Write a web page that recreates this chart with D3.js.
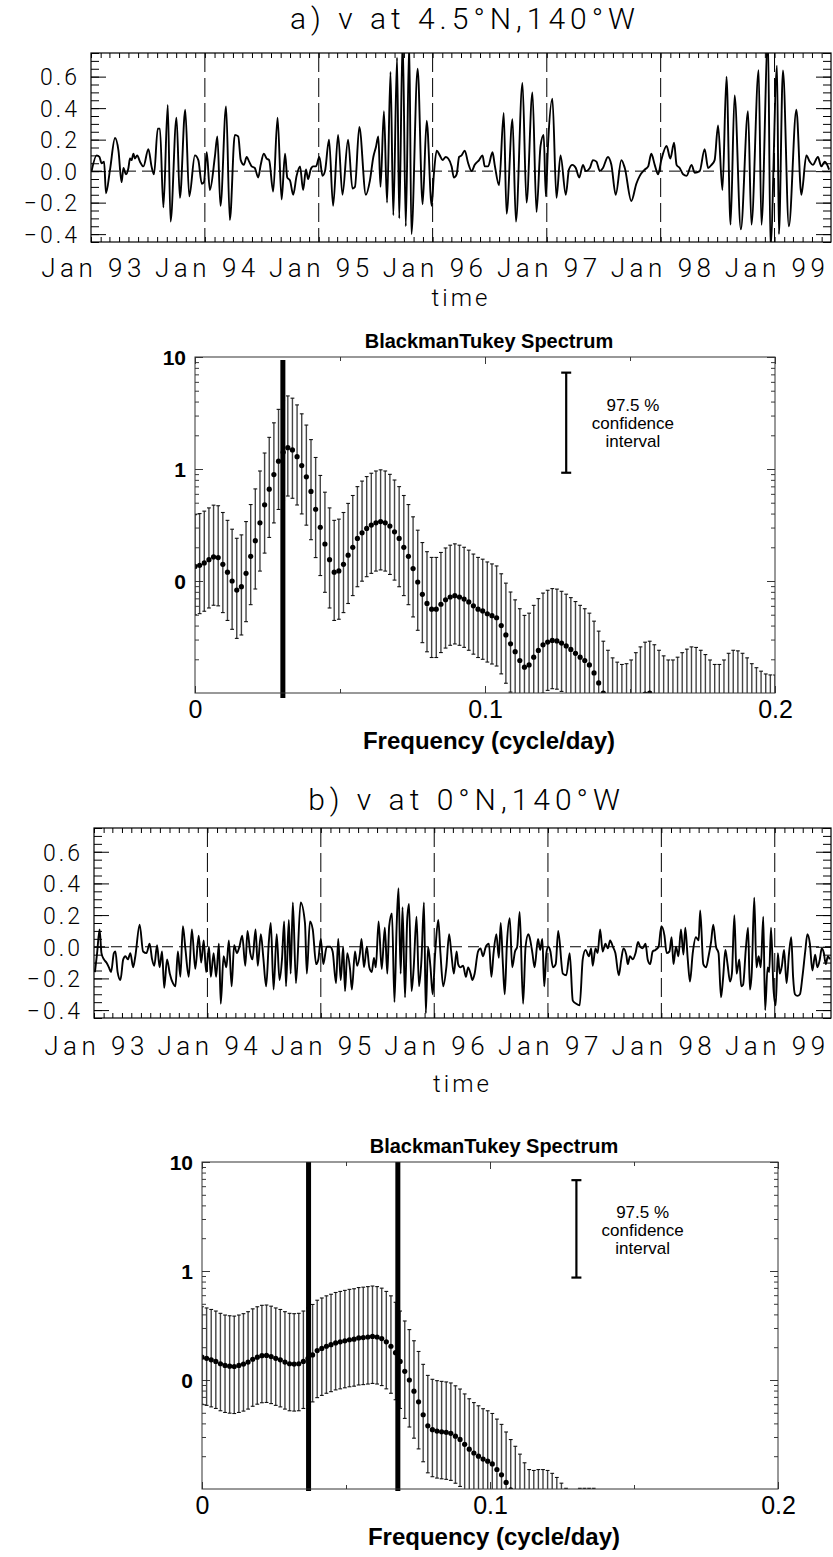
<!DOCTYPE html>
<html>
<head>
<meta charset="utf-8">
<script src="https://cdn.jsdelivr.net/npm/d3@7"></script>
<style>
  body { margin: 0; background: #fff; }
  .hershey { font-family: Roboto, "DejaVu Sans", sans-serif; font-weight: 300; fill: #000; }
  .helv { font-family: "Liberation Sans", Arial, sans-serif; fill: #000; }
</style>
</head>
<body>
<svg id="chart" width="833" height="1557"></svg>
<script>
// ---------- time series: days since 1 Jan 1993, meridional velocity v ----------
const tA = [2,18,27,34,42,48,61,77,88,98,104,112,120,125,130,136,141,148,157,168,
  184,194,202,214,221,232,246,255,274,285,302,315,333,344,355,362,371,381,397,405,
  415,433,445,461,472,480,490,499,507,515,525,536,544,554,563,571,584,598,611,622,
  629,638,648,659,670,
  680,689,696,704,712,721,732,742,750,763,776,792,806,824,838,846,860,881,894,905,
  913,921,928,939,949,960,969,981,988,999,1009,1020,1027,1047,1063,1076,1092,1099,1108,1118,
  1127,1137,1145,1156,1163,1172,1180,1188,1198,1209,1220,1230,1244,1255,1262,1273,1287,1294,1308,1323,
  1332,1351,1362,1383,1396,1415,1428,1441,1451,1458,1465,1479,1492,1505,1522,1532,1543,1554,1565,1577,
  1586,1599,1609,1620,1631,
  1641,1657,1668,1682,1700,1711,1732,1748,1759,1775,1786,1796,1807,1818,1828,1845,1857,1869,1877,1887,
  1898,1909,1925,1935,1951,1967,1978,1989,1999,2010,2024,2037,2050,2063,2083,2106,2117,2140,2149,2170,
  2178,2199,2205,2218,2237,2261,2277,2293,2304,2314,2330,2341,2352,2366];
const vA = [0.00,0.10,0.09,0.05,0.06,-0.14,0.01,0.21,0.13,-0.07,0.02,-0.02,0.02,0.08,0.07,0.11,0.08,0.10,0.06,0.03,
  0.14,0.03,-0.02,0.27,0.27,-0.23,0.42,-0.32,0.34,-0.17,0.39,-0.16,0.10,0.07,-0.08,-0.07,0.12,-0.12,0.09,0.22,
  -0.22,0.41,-0.31,0.23,0.22,0.07,0.04,0.09,0.06,0.03,0.02,-0.04,0.04,0.11,0.08,0.07,-0.13,0.34,-0.18,0.11,
  -0.04,-0.06,-0.15,-0.03,0.03,
  -0.12,0.01,-0.05,0.01,0.03,0.03,0.09,-0.03,0.00,0.20,-0.22,0.23,-0.15,0.20,-0.11,-0.10,0.28,-0.15,-0.06,0.09,
  0.15,0.22,-0.10,0.38,-0.20,0.63,-0.28,0.72,-0.30,0.85,-0.35,0.82,-0.40,0.65,-0.21,0.32,-0.22,-0.02,0.13,0.10,
  0.07,0.09,0.08,0.03,-0.04,-0.02,0.09,0.10,0.13,0.05,0.00,0.04,0.07,0.10,0.03,0.03,0.12,0.04,-0.09,0.37,
  -0.27,0.33,-0.32,0.56,-0.20,0.50,-0.26,0.16,0.23,-0.16,0.17,0.46,-0.17,0.10,-0.15,0.01,0.04,0.02,-0.04,0.04,
  0.00,0.02,0.07,0.06,0.00,
  0.02,0.09,0.04,-0.15,0.07,0.02,-0.19,-0.08,-0.03,0.01,0.03,0.11,0.04,-0.02,0.07,0.16,0.08,0.18,0.04,0.02,
  -0.02,-0.03,0.04,-0.01,0.00,0.14,0.02,0.04,0.07,0.29,-0.12,0.60,-0.34,0.48,-0.37,0.38,-0.34,0.64,-0.34,0.85,
  -0.48,0.67,-0.40,0.64,-0.35,0.39,-0.15,0.10,0.06,0.04,0.09,0.03,0.06,0.01];

const tB = [3,10,18,24,32,40,48,55,64,69,76,85,94,101,109,117,126,133,147,158,
  169,179,187,194,203,211,219,226,235,244,254,262,270,278,286,294,305,315,326,337,
  345,353,361,370,376,385,393,402,408,417,426,434,443,451,460,468,477,487,494,503,
  510,520,527,537,545,554,563,569,578,588,597,605,612,618,627,633,640,
  650,665,679,685,695,704,715,722,730,738,749,760,768,779,786,794,802,808,815,824,
  830,840,847,856,861,869,878,886,894,901,907,916,926,936,944,950,959,967,974,980,
  987,993,1001,1008,1014,1022,1029,1038,1046,1054,1062,1068,1075,1083,1090,1098,1108,1115,1124,1134,
  1143,1150,1158,1167,1172,1179,1188,1197,1204,1212,1218,1225,1236,1244,1252,1261,1271,1279,1286,1295,
  1303,1309,1316,1322,1329,1338,1346,1355,1362,1370,1381,1389,1398,1402,1411,1418,1429,1436,1443,1449,
  1456,1462,1469,1477,1486,1494,
  1509,1520,1531,1541,1552,1563,1573,1582,1593,1600,1605,1614,1621,1629,1637,1646,1654,1661,1670,1678,
  1689,1697,1704,1713,1718,1725,1734,1743,1751,1758,1766,1775,1782,1790,1798,1807,1817,1826,1836,1843,
  1852,1859,1865,1873,1881,1889,1897,1903,1911,1918,1927,1937,1946,1951,1961,1970,1978,1986,1993,2002,
  2010,2018,2025,2032,2039,2047,2053,2061,2068,2077,2083,2089,2098,2105,2111,2117,2125,2132,2139,2146,
  2154,2160,2168,2173,2179,2187,2194,2201,2207,2214,2221,2229,2237,2244,2250,2256,2264,2272,2280,2289,
  2296,2304,2312,2321,2328,2336,2342,2349,2355,2362,2368];
const vB = [-0.16,-0.04,0.11,-0.04,-0.08,-0.10,-0.13,-0.16,-0.04,-0.03,-0.16,-0.21,-0.08,-0.06,-0.08,-0.04,-0.13,-0.06,0.14,-0.03,
  -0.04,0.02,-0.08,-0.12,0.01,-0.13,-0.03,-0.26,-0.08,-0.17,-0.23,-0.25,-0.03,-0.19,0.13,-0.01,-0.19,0.11,-0.14,0.07,
  -0.10,0.04,-0.16,0.00,-0.19,-0.04,-0.19,0.02,-0.36,-0.06,-0.13,0.04,-0.25,0.01,-0.04,0.00,0.07,-0.12,0.10,-0.04,
  -0.08,0.11,-0.12,0.08,-0.07,-0.25,0.04,0.15,-0.27,0.08,-0.21,-0.08,0.16,-0.25,0.17,-0.17,0.28,
  -0.23,0.28,0.15,-0.17,0.16,0.11,-0.11,-0.08,0.05,-0.11,0.00,0.00,-0.03,-0.23,0.05,-0.21,0.00,-0.28,-0.04,-0.14,
  -0.27,-0.03,-0.12,-0.04,0.05,-0.13,0.00,-0.13,-0.16,-0.07,-0.13,0.16,-0.14,0.12,-0.17,0.13,0.21,-0.35,0.13,0.37,
  -0.17,0.25,-0.32,0.17,0.27,-0.28,-0.13,0.19,-0.25,-0.08,0.28,-0.42,0.00,-0.13,-0.30,-0.04,0.17,-0.04,-0.25,-0.13,
  0.08,-0.04,-0.17,-0.03,-0.11,-0.13,-0.12,-0.19,-0.13,-0.17,-0.21,-0.17,-0.03,-0.01,-0.06,0.00,0.02,-0.19,-0.04,0.08,
  -0.07,0.15,-0.11,-0.30,0.02,0.18,-0.13,-0.03,0.00,0.22,-0.36,0.00,0.08,0.06,-0.04,-0.13,0.05,-0.02,0.05,-0.25,
  -0.04,0.00,-0.03,-0.13,-0.11,0.10,
  -0.17,-0.18,-0.04,-0.34,-0.36,-0.37,-0.08,-0.02,-0.06,-0.01,-0.12,-0.01,-0.04,0.11,-0.03,0.02,-0.01,0.04,0.00,-0.04,
  -0.18,-0.08,-0.01,-0.05,-0.11,-0.06,-0.08,-0.04,0.03,0.00,-0.01,0.02,-0.08,-0.11,-0.03,-0.02,0.00,0.13,0.07,-0.04,
  -0.03,0.06,-0.11,0.00,-0.06,0.11,-0.05,0.12,-0.08,-0.22,-0.04,0.06,0.04,0.23,-0.11,-0.13,-0.06,0.03,0.14,0.00,
  -0.04,-0.32,-0.19,-0.02,-0.11,-0.22,-0.17,0.20,-0.17,-0.08,-0.25,-0.24,-0.01,0.12,-0.27,-0.16,0.31,-0.13,-0.06,-0.13,
  0.19,-0.40,-0.13,-0.16,0.12,-0.27,-0.37,-0.04,-0.17,-0.12,-0.02,-0.23,-0.04,0.06,-0.19,-0.30,-0.31,-0.30,-0.19,-0.03,
  0.08,0.02,-0.15,-0.05,-0.13,-0.08,-0.01,-0.04,-0.11,-0.06,-0.08];

const seriesYTicks = [-0.4, -0.2, 0.0, 0.2, 0.4, 0.6];
const yearLabels = ["Jan 93", "Jan 94", "Jan 95", "Jan 96", "Jan 97", "Jan 98", "Jan 99"];

// ---------- Blackman-Tukey spectra on a uniform frequency grid ----------
const df = 0.0016; // cycle/day between estimates
const specA = [0.135,0.138,0.145,0.155,0.164,0.162,0.141,0.120,0.100,0.083,
  0.089,0.117,0.166,0.229,0.331,0.479,0.661,0.891,1.175,1.413,
  1.549,1.479,1.288,1.072,0.851,0.631,0.437,0.302,0.214,0.155,
  0.120,0.123,0.141,0.170,0.200,0.240,0.269,0.295,0.316,0.331,
  0.339,0.331,0.309,0.275,0.240,0.200,0.166,0.129,0.098,0.076,
  0.063,0.056,0.056,0.062,0.068,0.072,0.074,0.072,0.069,0.065,
  0.060,0.056,0.054,0.051,0.049,0.047,0.040,0.033,0.0275,0.0234,
  0.0195,0.0170,0.0178,0.0209,0.0240,0.0269,0.0285,0.0295,0.0292,0.0279,
  0.0263,0.0245,0.0226,0.0209,0.0195,0.0178,0.0151,0.0123,0.0100,0.0083,
  0.0071,0.0065,0.0062,0.0063,0.0068,0.0079,0.0089,0.0098,0.0100,0.0093,
  0.0083,0.0074,0.0068,0.0068,0.0072,0.0079,0.0085,0.0089,0.0088,0.0083,
  0.0076,0.0068,0.0062,0.0062,0.0068,0.0078,0.0083,0.0082,0.0078,0.0071,
  0.0063,0.0058,0.0054,0.0051,0.0050,0.0050];
const specB = [0.162,0.158,0.153,0.148,0.141,0.136,0.134,0.133,0.136,0.140,
  0.146,0.155,0.162,0.167,0.168,0.164,0.158,0.153,0.146,0.141,
  0.140,0.141,0.148,0.158,0.170,0.186,0.195,0.204,0.211,0.219,
  0.224,0.229,0.234,0.237,0.243,0.245,0.248,0.251,0.248,0.240,
  0.224,0.204,0.178,0.148,0.120,0.100,0.079,0.063,0.048,0.038,
  0.035,0.034,0.0335,0.0331,0.0324,0.0305,0.0285,0.0257,0.0232,0.0214,
  0.0200,0.0188,0.0180,0.0170,0.0151,0.0135,0.0115,0.0098,0.0085,0.0072,
  0.0060,0.0052,0.0051,0.0052,0.0052,0.0051,0.0048,0.0044,0.0039,0.0035,
  0.0034,0.0034,0.0035,0.0035,0.0035,0.0035,0.0032,0.0028,0.0024,0.0021,
  0.0018];
const peakFreqA = [0.0303];
const peakFreqB = [0.037, 0.068];
// 97.5 % confidence factors (upper / lower) of the spectral estimate
const ciUp = 2.9, ciLo = 2.7;
const specYTicks = [0.1, 1, 10];
const specYLabels = ["0", "1", "10"];
const freqTicks = [0, 0.1, 0.2];
const freqLabels = ["0", "0.1", "0.2"];
const legendText = ["97.5 %", "confidence", "interval"];

// ---------------------------------------------------------------------------
const svg = d3.select("#chart");
const startDate = new Date(1993, 0, 1);
const endDate = new Date(1999, 6, 1);
const yearDates = yearLabels.map((_, i) => new Date(1993 + i, 0, 1));

function seriesPanel(cfg) {
  const g = svg.append("g");
  const x = d3.scaleTime().domain([startDate, endDate]).range([cfg.L, cfg.R]);
  const y = d3.scaleLinear().domain([-0.45, 0.75]).range([cfg.B, cfg.T]);
  const clipId = "clip-" + cfg.key;
  svg.append("clipPath").attr("id", clipId).append("rect")
    .attr("x", cfg.L).attr("y", cfg.T).attr("width", cfg.R - cfg.L).attr("height", cfg.B - cfg.T);

  g.append("text").attr("class", "hershey")
    .attr("x", (cfg.L + cfg.R) / 2 + 4).attr("y", cfg.titleY)
    .attr("text-anchor", "middle").attr("font-size", 30)
    .style("letter-spacing", "5px")
    .text(cfg.title);

  // zero reference and year boundaries
  g.append("line").attr("x1", cfg.L).attr("x2", cfg.R).attr("y1", y(0)).attr("y2", y(0))
    .attr("stroke", "#000").attr("stroke-width", 1).attr("stroke-dasharray", "11,6");
  g.selectAll(".yr").data(yearDates.slice(1)).join("line")
    .attr("x1", d => x(d)).attr("x2", d => x(d)).attr("y1", cfg.T).attr("y2", cfg.B)
    .attr("stroke", "#000").attr("stroke-width", 1).attr("stroke-dasharray", "19,6");

  const data = cfg.t.map((d, i) => ({ date: d3.timeDay.offset(startDate, d), v: cfg.v[i] }));
  g.append("path").datum(data).attr("clip-path", `url(#${clipId})`)
    .attr("d", d3.line().curve(d3.curveMonotoneX).x(d => x(d.date)).y(d => y(d.v)))
    .attr("fill", "none").attr("stroke", "#000").attr("stroke-width", 1.9).attr("stroke-linejoin", "round");

  // axes
  const minorY = d3.range(-0.45, 0.7501, 0.05).map(v => Math.round(v * 100) / 100);
  const noDomain = s => s.select(".domain").remove();
  g.append("g").attr("transform", `translate(${cfg.L},0)`)
    .call(d3.axisLeft(y).tickValues(minorY).tickSize(-8).tickFormat("")).call(noDomain);
  g.append("g").attr("transform", `translate(${cfg.R},0)`)
    .call(d3.axisRight(y).tickValues(minorY).tickSize(-8).tickFormat("")).call(noDomain);
  g.append("g").attr("transform", `translate(${cfg.R},0)`)
    .call(d3.axisRight(y).tickValues(seriesYTicks).tickSize(-15).tickFormat("")).call(noDomain);
  const yl = g.append("g").attr("transform", `translate(${cfg.L},0)`)
    .call(d3.axisLeft(y).tickValues(seriesYTicks).tickSize(-15).tickPadding(11).tickFormat(d3.format(".1f")))
    .call(noDomain);
  yl.selectAll("text").attr("class", "hershey").attr("font-size", 23)
    .style("letter-spacing", "3px").attr("dy", "0.36em");

  const months = d3.timeMonth.range(startDate, endDate);
  g.append("g").attr("transform", `translate(0,${cfg.B})`)
    .call(d3.axisBottom(x).tickValues(months).tickSize(-5).tickFormat("")).call(noDomain);
  g.append("g").attr("transform", `translate(0,${cfg.T})`)
    .call(d3.axisTop(x).tickValues(months).tickSize(-5).tickFormat("")).call(noDomain);
  const xl = g.append("g").attr("transform", `translate(0,${cfg.B})`)
    .call(d3.axisBottom(x).tickValues(yearDates).tickSize(0).tickPadding(cfg.labelPad)
      .tickFormat((d, i) => yearLabels[i]))
    .call(noDomain);
  xl.selectAll("text").attr("class", "hershey").attr("font-size", 26)
    .attr("dx", "2px").style("letter-spacing", "4.5px");

  g.selectAll(".tick line").attr("stroke", "#000").attr("stroke-width", 1);
  g.append("rect").attr("x", cfg.L).attr("y", cfg.T).attr("width", cfg.R - cfg.L).attr("height", cfg.B - cfg.T)
    .attr("fill", "none").attr("stroke", "#000").attr("stroke-width", 1.2);

  g.append("text").attr("class", "hershey")
    .attr("x", (cfg.L + cfg.R) / 2).attr("y", cfg.timeY)
    .attr("text-anchor", "middle").attr("font-size", 24).style("letter-spacing", "3px")
    .text("time");
}

function spectrumPanel(cfg) {
  const g = svg.append("g");
  const x = d3.scaleLinear().domain([0, 0.2]).range([cfg.L, cfg.R]);
  const y = d3.scaleLog().domain([0.01, 10]).range([cfg.B, cfg.T]);
  const clipId = "clip-" + cfg.key;
  svg.append("clipPath").attr("id", clipId).append("rect")
    .attr("x", cfg.L).attr("y", cfg.T).attr("width", cfg.R - cfg.L).attr("height", cfg.B - cfg.T);

  const pts = cfg.spec.map((v, i) => ({ f: i * df, v }));
  const inner = g.append("g").attr("clip-path", `url(#${clipId})`);
  const lo = d => y(Math.max(d.v / ciLo, 0.005));
  const hi = d => y(d.v * ciUp);
  // confidence bars
  inner.selectAll(".bar").data(pts).join("line")
    .attr("x1", d => x(d.f)).attr("x2", d => x(d.f)).attr("y1", lo).attr("y2", hi)
    .attr("stroke", "#444").attr("stroke-width", 1.4);
  inner.selectAll(".capT").data(pts).join("line")
    .attr("x1", d => x(d.f) - 1.9).attr("x2", d => x(d.f) + 1.9).attr("y1", hi).attr("y2", hi)
    .attr("stroke", "#111").attr("stroke-width", 1.1);
  inner.selectAll(".capB").data(pts).join("line")
    .attr("x1", d => x(d.f) - 1.9).attr("x2", d => x(d.f) + 1.9).attr("y1", lo).attr("y2", lo)
    .attr("stroke", "#111").attr("stroke-width", 1.1);
  // spectral estimates
  inner.selectAll(".dot").data(pts).join("circle")
    .attr("cx", d => x(d.f)).attr("cy", d => y(d.v)).attr("r", 2.6).attr("fill", "#000");

  // selected frequencies
  g.selectAll(".peak").data(cfg.peaks).join("line")
    .attr("x1", d => x(d)).attr("x2", d => x(d)).attr("y1", cfg.T + cfg.peakTop).attr("y2", cfg.B + cfg.peakBottom)
    .attr("stroke", "#000").attr("stroke-width", 5);

  // axes with inward ticks
  const noDomain = s => s.select(".domain").remove();
  const minorY = [];
  [0.01, 0.1, 1].forEach(dec => { for (let k = 2; k <= 9; k++) minorY.push(dec * k); });
  g.append("g").attr("transform", `translate(${cfg.L},0)`)
    .call(d3.axisLeft(y).tickValues(minorY).tickSize(-4).tickFormat("")).call(noDomain);
  g.append("g").attr("transform", `translate(${cfg.R},0)`)
    .call(d3.axisRight(y).tickValues(minorY).tickSize(-4).tickFormat("")).call(noDomain);
  g.append("g").attr("transform", `translate(${cfg.R},0)`)
    .call(d3.axisRight(y).tickValues(specYTicks).tickSize(-8).tickFormat("")).call(noDomain);
  const yl = g.append("g").attr("transform", `translate(${cfg.L},0)`)
    .call(d3.axisLeft(y).tickValues(specYTicks).tickSize(-8).tickPadding(9)
      .tickFormat((d, i) => specYLabels[i]))
    .call(noDomain);
  yl.selectAll("text").attr("class", "helv").attr("font-size", 21).attr("font-weight", "bold").attr("dy", "0.36em");

  const minorX = [0.05, 0.15];
  g.append("g").attr("transform", `translate(0,${cfg.B})`)
    .call(d3.axisBottom(x).tickValues(minorX).tickSize(-4).tickFormat("")).call(noDomain);
  g.append("g").attr("transform", `translate(0,${cfg.T})`)
    .call(d3.axisTop(x).tickValues(minorX).tickSize(-4).tickFormat("")).call(noDomain);
  g.append("g").attr("transform", `translate(0,${cfg.T})`)
    .call(d3.axisTop(x).tickValues(freqTicks).tickSize(-7).tickFormat("")).call(noDomain);
  const xl = g.append("g").attr("transform", `translate(0,${cfg.B})`)
    .call(d3.axisBottom(x).tickValues(freqTicks).tickSize(-7).tickPadding(6)
      .tickFormat((d, i) => freqLabels[i]))
    .call(noDomain);
  xl.selectAll("text").attr("class", "helv").attr("font-size", 25).attr("dy", "0.75em");

  g.selectAll(".tick line").attr("stroke", "#222").attr("stroke-width", 0.9);
  g.append("rect").attr("x", cfg.L).attr("y", cfg.T).attr("width", cfg.R - cfg.L).attr("height", cfg.B - cfg.T)
    .attr("fill", "none").attr("stroke", "#333").attr("stroke-width", 1);

  g.append("text").attr("class", "helv")
    .attr("x", (cfg.L + cfg.R) / 2 + 4).attr("y", cfg.T - 9)
    .attr("text-anchor", "middle").attr("font-size", 20).attr("font-weight", "bold")
    .text("BlackmanTukey Spectrum");
  g.append("text").attr("class", "helv")
    .attr("x", (cfg.L + cfg.R) / 2 + 4).attr("y", cfg.B + 56)
    .attr("text-anchor", "middle").attr("font-size", 24).attr("font-weight", "bold")
    .text("Frequency (cycle/day)");

  // confidence-interval legend
  const lx = x(cfg.legendF);
  const yTop = y(cfg.legendRef * ciUp), yBot = y(cfg.legendRef / ciLo);
  g.append("line").attr("x1", lx).attr("x2", lx).attr("y1", yTop).attr("y2", yBot)
    .attr("stroke", "#000").attr("stroke-width", 2.2);
  [yTop, yBot].forEach(yy => g.append("line").attr("x1", lx - 5).attr("x2", lx + 5)
    .attr("y1", yy).attr("y2", yy).attr("stroke", "#000").attr("stroke-width", 2.2));
  legendText.forEach((s, i) => g.append("text").attr("class", "helv")
    .attr("x", x(cfg.legendTextF)).attr("y", yTop + 38 + i * 18)
    .attr("text-anchor", "middle").attr("font-size", 17).text(s));
}

seriesPanel({ key: "a", title: "a) v at 4.5°N,140°W", t: tA, v: vA,
  L: 91, R: 831, T: 53, B: 242, titleY: 29, labelPad: 17, timeY: 306 });
spectrumPanel({ key: "sa", spec: specA, peaks: peakFreqA,
  L: 195, R: 775, T: 357, B: 693, peakTop: 3, peakBottom: 5,
  legendF: 0.128, legendTextF: 0.151, legendRef: 2.5 });
seriesPanel({ key: "b", title: "b) v at 0°N,140°W", t: tB, v: vB,
  L: 94, R: 831, T: 828, B: 1018, titleY: 810, labelPad: 19, timeY: 1092 });
spectrumPanel({ key: "sb", spec: specB, peaks: peakFreqB,
  L: 202, R: 778, T: 1162, B: 1489, peakTop: 0, peakBottom: 2,
  legendF: 0.130, legendTextF: 0.153, legendRef: 2.35 });
</script>
</body>
</html>
